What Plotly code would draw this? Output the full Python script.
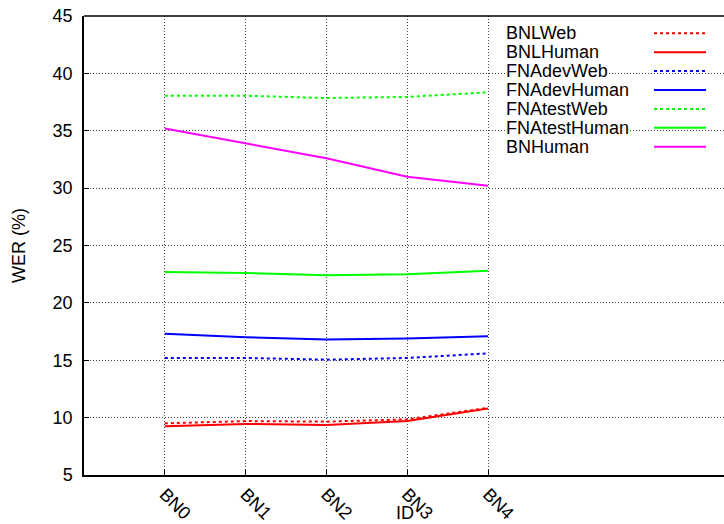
import plotly.graph_objects as go

categories = ["BN0", "BN1", "BN2", "BN3", "BN4"]
series_names = ["BNLWeb", "BNLHuman", "FNAdevWeb", "FNAdevHuman",
                "FNAtestWeb", "FNAtestHuman", "BNHuman"]
BNLWeb = [9.5, 9.7, 9.65, 9.85, 10.85]
BNLHuman = [9.25, 9.45, 9.35, 9.7, 10.8]
FNAdevWeb = [15.2, 15.2, 15.05, 15.2, 15.6]
FNAdevHuman = [17.3, 17.0, 16.8, 16.9, 17.1]
FNAtestWeb = [38.05, 38.05, 37.85, 37.95, 38.35]
FNAtestHuman = [22.7, 22.6, 22.4, 22.5, 22.8]
BNHuman = [35.2, 33.9, 32.6, 31.0, 30.2]
yticks = [5, 10, 15, 20, 25, 30, 35, 40, 45]

values = [BNLWeb, BNLHuman, FNAdevWeb, FNAdevHuman, FNAtestWeb, FNAtestHuman, BNHuman]
colors = ["#ff0000", "#ff0000", "#0000ff", "#0000ff", "#00ff00", "#00ff00", "#ff00ff"]
dashes = ["dot", "solid", "dot", "solid", "dot", "solid", "solid"]

W, H = 724, 524
L, R, T, B = 84, 0, 16, 49
FONT = "Liberation Sans, Arial, sans-serif"
FS = 18

fig = go.Figure()
xs = list(range(len(categories)))
for name, vals, c, d in zip(series_names, values, colors, dashes):
    fig.add_trace(go.Scatter(x=xs, y=vals, mode="lines", name=name,
                             line=dict(color=c, width=2, dash=d),
                             showlegend=False))

pw = W - L - R
ph = H - T - B

def px_x(p):
    return (p - L) / pw

def px_y(p):
    return 1 - (p - T) / ph

# gnuplot-style legend: text on left, line sample on right
for i, (name, c, d) in enumerate(zip(series_names, colors, dashes)):
    ypx = 33.3 + i * 18.9
    yp = px_y(ypx)
    fig.add_annotation(x=px_x(505), y=yp, xref="paper", yref="paper",
                       text=name, showarrow=False, xanchor="left", yanchor="middle",
                       font=dict(family=FONT, size=FS, color="black"),
                       bgcolor="white", borderpad=0)
    fig.add_shape(type="line", xref="paper", yref="paper",
                  x0=px_x(654), x1=px_x(706), y0=yp, y1=yp,
                  line=dict(color=c, width=2, dash=d))

# axis titles
fig.add_annotation(x=px_x(405), y=px_y(513), xref="paper", yref="paper",
                   text="ID", showarrow=False, xanchor="center", yanchor="middle",
                   font=dict(family=FONT, size=FS, color="black"))
fig.add_annotation(x=px_x(19), y=px_y(246), xref="paper", yref="paper",
                   text="WER (%)", textangle=-90, showarrow=False,
                   xanchor="center", yanchor="middle",
                   font=dict(family=FONT, size=FS, color="black"))

# top border
fig.add_shape(type="line", xref="paper", yref="paper", x0=0, x1=1, y0=1, y1=1,
              line=dict(color="black", width=1.5))

fig.update_layout(
    width=W, height=H,
    margin=dict(l=L, r=R, t=T, b=B, autoexpand=False),
    paper_bgcolor="white", plot_bgcolor="white",
    font=dict(family=FONT, size=FS, color="black"),
    xaxis=dict(range=[-1, 6.92], tickvals=xs, ticktext=categories, tickangle=45,
               showgrid=True, gridcolor="#444444", griddash="1px,2px", gridwidth=1,
               showline=True, linecolor="black", linewidth=1.5,
               ticks="inside", ticklen=5, tickcolor="black",
               zeroline=False, automargin=False),
    yaxis=dict(range=[5, 45], tickvals=yticks,
               showgrid=True, gridcolor="#444444", griddash="1px,2px", gridwidth=1,
               showline=True, linecolor="black", linewidth=1.5,
               ticks="inside", ticklen=5, tickcolor="black", ticklabelstandoff=6,
               zeroline=False, automargin=False),
)

fig.write_html("out.html", config={"displayModeBar": False})

with open("out.html", "r", encoding="utf-8") as f:
    html = f.read()
html = html.replace("<head>", "<head><style>html,body{margin:0;padding:0;overflow:hidden;}</style>", 1)
with open("out.html", "w", encoding="utf-8") as f:
    f.write(html)
